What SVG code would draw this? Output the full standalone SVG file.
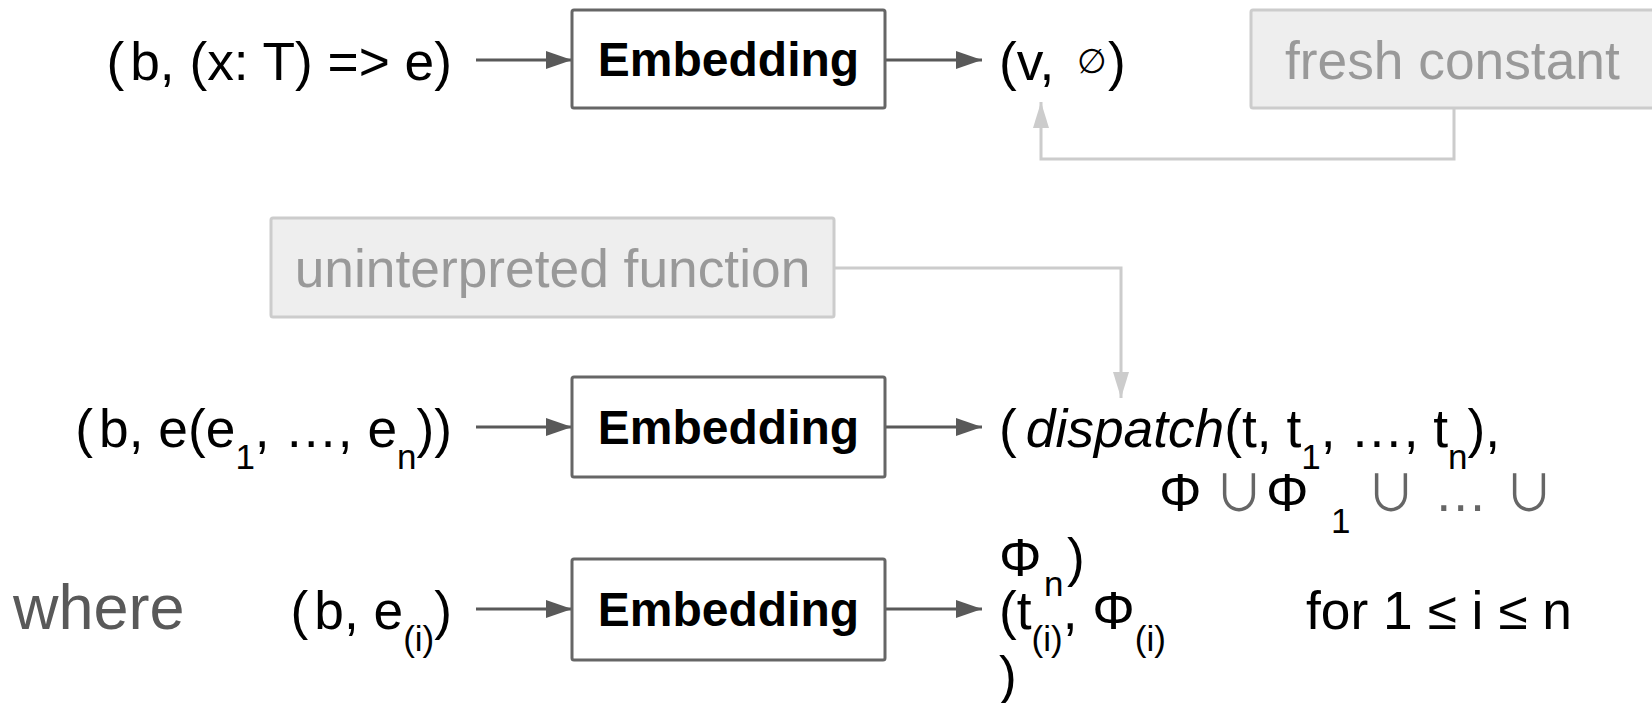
<svg xmlns="http://www.w3.org/2000/svg" width="1652" height="703" viewBox="0 0 1652 703">
<style>
.emb{fill:#fff;stroke:#666;stroke-width:3}
.lbl{fill:#eee;stroke:#ccc;stroke-width:3}
.t{font-family:"Liberation Sans",Arial,sans-serif;font-size:53.3px;fill:#000}
.b{font-family:"Liberation Sans",Arial,sans-serif;font-size:48px;font-weight:bold;fill:#000}
.g{font-family:"Liberation Sans",Arial,sans-serif;font-size:53.3px;fill:#999}
.s{font-size:35px}
.op{fill:#666}
.cup{font-family:"Noto Sans CJK JP","DejaVu Sans",sans-serif;font-size:50px;fill:#666}
.dk{stroke:#595959;stroke-width:3;fill:none}
.lt{stroke:#ccc;stroke-width:3;fill:none}
</style>
<defs>
<marker id="ad" markerUnits="userSpaceOnUse" markerWidth="26" markerHeight="18" refX="26" refY="9" orient="auto"><path d="M0,0 L26,9 L0,18 z" fill="#595959"/></marker>
<marker id="al" markerUnits="userSpaceOnUse" markerWidth="26" markerHeight="16" refX="26" refY="8" orient="auto"><path d="M0,0 L26,8 L0,16 z" fill="#ccc"/></marker>
</defs>
<g id="connectors">
<line class="dk" x1="476" y1="60" x2="572" y2="60" marker-end="url(#ad)"/>
<line class="dk" x1="885" y1="60" x2="982" y2="60" marker-end="url(#ad)"/>
<line class="dk" x1="476" y1="427" x2="572" y2="427" marker-end="url(#ad)"/>
<line class="dk" x1="885" y1="427" x2="982" y2="427" marker-end="url(#ad)"/>
<line class="dk" x1="476" y1="609" x2="572" y2="609" marker-end="url(#ad)"/>
<line class="dk" x1="885" y1="609" x2="982" y2="609" marker-end="url(#ad)"/>
<polyline class="lt" points="1454,108 1454,159 1041,159 1041,102" marker-end="url(#al)"/>
<polyline class="lt" points="834,268 1121,268 1121,398" marker-end="url(#al)"/>
</g>
<g id="in1"><text class="t" x="452" y="80" text-anchor="end">(<tspan dx="6">b, (x: T) =&gt; e)</tspan></text></g>
<g id="emb1"><rect class="emb" x="572" y="10" width="313" height="98" rx="2"/><text class="b" x="728.5" y="76" text-anchor="middle">Embedding</text></g>
<g id="out1"><text class="t" x="999" y="80">(v, <tspan font-size="34" dx="8" dy="-7">∅</tspan><tspan dx="1" dy="7">)</tspan></text></g>
<g id="fresh"><rect class="lbl" x="1251" y="10" width="420" height="98" rx="2"/><text class="g" x="1285" y="79">fresh constant</text></g>
<g id="unint"><rect class="lbl" x="271" y="218" width="563" height="99" rx="2"/><text class="g" x="552.5" y="287" text-anchor="middle">uninterpreted function</text></g>
<g id="in2"><text class="t" x="452" y="447" text-anchor="end">(<tspan dx="6">b, e(e</tspan><tspan class="s" dy="22">1</tspan><tspan dy="-22">, …, e</tspan><tspan class="s" dy="22">n</tspan><tspan dy="-22">))</tspan></text></g>
<g id="emb2"><rect class="emb" x="572" y="377" width="313" height="100" rx="2"/><text class="b" x="728.5" y="444" text-anchor="middle">Embedding</text></g>
<g id="out2">
<text class="t" x="999" y="447">(<tspan dx="9" font-style="italic">dispatch</tspan>(t, t<tspan class="s" dy="22">1</tspan><tspan dy="-22">, …, t</tspan><tspan class="s" dy="22">n</tspan><tspan dy="-22">),</tspan></text>
<text class="t" y="511"><tspan x="1159">Φ</tspan><tspan x="1266">Φ</tspan><tspan class="s" x="1331" dy="22">1</tspan><tspan class="op" x="1434" dy="-22">…</tspan></text>
<text class="cup" y="511" text-anchor="middle"><tspan x="1239">∪</tspan><tspan x="1391">∪</tspan><tspan x="1529">∪</tspan></text>
<text class="t" x="999" y="576">Φ<tspan class="s" x="1044" dy="20">n</tspan><tspan x="1067" dy="-20">)</tspan></text>
</g>
<g id="where"><text x="13" y="629" font-family="Liberation Sans, Arial, sans-serif" font-size="63" fill="#595959">where</text></g>
<g id="in3"><text class="t" x="452" y="629" text-anchor="end">(<tspan dx="6">b, e</tspan><tspan class="s" dy="22">(i)</tspan><tspan dy="-22">)</tspan></text></g>
<g id="emb3"><rect class="emb" x="572" y="559" width="313" height="101" rx="2"/><text class="b" x="728.5" y="626" text-anchor="middle">Embedding</text></g>
<g id="out3">
<text class="t" x="999" y="629">(t<tspan class="s" dy="22">(i)</tspan><tspan dy="-22">, Φ</tspan><tspan class="s" dy="22">(i)</tspan></text>
<text class="t" x="999" y="694">)</text>
</g>
<g id="range"><text class="t" x="1306" y="629">for 1 ≤ i ≤ n</text></g>
</svg>
